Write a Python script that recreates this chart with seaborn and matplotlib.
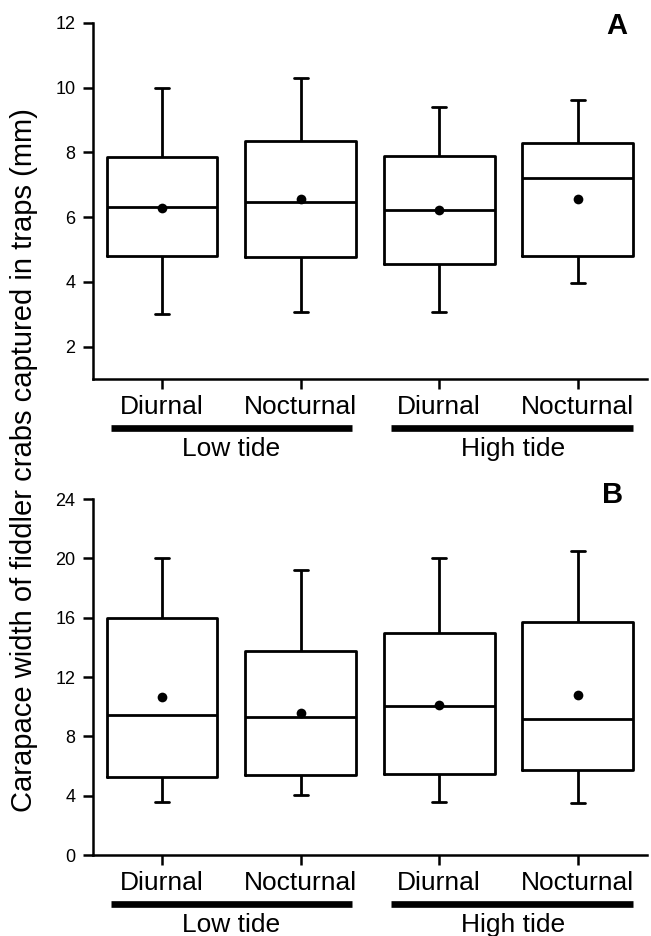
import numpy as np
import pandas as pd
import matplotlib
matplotlib.use('Agg')
import matplotlib.pyplot as plt
import matplotlib.transforms as mtransforms
import seaborn as sns

# groups along the x axis (tide x period)
groups = ['Low Diurnal', 'Low Nocturnal', 'High Diurnal', 'High Nocturnal']
tick_labels = ['Diurnal', 'Nocturnal', 'Diurnal', 'Nocturnal']
tide_labels = ['Low tide', 'High tide']

# Panel A: five-number summaries + means
a_min = [3.0, 3.07, 3.07, 3.98]
a_q1 = [4.8, 4.76, 4.54, 4.79]
a_med = [6.3, 6.48, 6.22, 7.2]
a_q3 = [7.85, 8.35, 7.9, 8.28]
a_max = [10.0, 10.3, 9.4, 9.6]
a_mean = [6.28, 6.56, 6.22, 6.56]

# Panel B
b_min = [3.6, 4.05, 3.6, 3.48]
b_q1 = [5.28, 5.39, 5.44, 5.73]
b_med = [9.42, 9.33, 10.07, 9.15]
b_q3 = [16.0, 13.78, 15.0, 15.73]
b_max = [20.0, 19.2, 20.0, 20.5]
b_mean = [10.65, 9.6, 10.1, 10.8]

ylabel = 'Carapace width of fiddler crabs captured in traps (mm)'


def summary_frame(mins, q1s, meds, q3s, maxs):
    # 5 points per group -> linear percentiles hit q1/median/q3 exactly
    rows = []
    for g, lo, q1, md, q3, hi in zip(groups, mins, q1s, meds, q3s, maxs):
        for v in (lo, q1, md, q3, hi):
            rows.append({'group': g, 'value': v})
    return pd.DataFrame(rows)


sns.set_style('ticks')
plt.rcParams['font.family'] = ['Liberation Sans', 'DejaVu Sans']
plt.rcParams['text.color'] = 'black'
plt.rcParams['xtick.color'] = 'black'
plt.rcParams['ytick.color'] = 'black'
plt.rcParams['axes.edgecolor'] = 'black'

fig = plt.figure(figsize=(6.51, 9.36), dpi=100)
ax_a = fig.add_axes([0.1424, 0.595, 0.8516, 0.3807])
ax_b = fig.add_axes([0.1424, 0.0865, 0.8516, 0.3803])

panels = [
    (ax_a, summary_frame(a_min, a_q1, a_med, a_q3, a_max), a_mean, (1, 12), np.arange(2, 13, 2), 'A'),
    (ax_b, summary_frame(b_min, b_q1, b_med, b_q3, b_max), b_mean, (0, 24), np.arange(0, 25, 4), 'B'),
]

for ax, df, means, ylim, yticks, letter in panels:
    sns.boxplot(data=df, x='group', y='value', order=groups, fill=False,
                color='black', linewidth=2.0, width=0.8, whis=(0, 100),
                capwidths=0.1, ax=ax)
    sns.stripplot(x=groups, y=means, order=groups, jitter=False,
                  color='black', size=7, ax=ax)
    ax.set_xlim(-0.5, 3.5)
    ax.set_ylim(*ylim)
    ax.set_yticks(yticks)
    ax.set_xticks(range(len(groups)))
    ax.set_xticklabels(tick_labels, fontsize=19)
    ax.set_xlabel('')
    ax.set_ylabel('')
    ax.tick_params(axis='y', labelsize=13, length=7.5, width=1.8, pad=5)
    ax.tick_params(axis='x', length=7.5, width=1.8, pad=4)
    sns.despine(ax=ax)
    for s in ['left', 'bottom']:
        ax.spines[s].set_linewidth(1.8)

    # tide group bars and labels under the tick labels
    trans = mtransforms.blended_transform_factory(ax.transData, ax.transAxes)
    ax.plot([-0.37, 1.37], [-0.137, -0.137], color='black', lw=4.8,
            solid_capstyle='butt', transform=trans, clip_on=False)
    ax.plot([1.65, 3.40], [-0.137, -0.137], color='black', lw=4.8,
            solid_capstyle='butt', transform=trans, clip_on=False)
    ax.text(0.5, -0.197, tide_labels[0], transform=trans, ha='center',
            va='center', fontsize=19)
    ax.text(2.53, -0.197, tide_labels[1], transform=trans, ha='center',
            va='center', fontsize=19)

fig.text(617 / 651, 1 - 26 / 936, 'A', fontsize=21, fontweight='bold',
         ha='center', va='center')
fig.text(613 / 651, 1 - 495 / 936, 'B', fontsize=21, fontweight='bold',
         ha='center', va='center')
fig.text(0.037, 0.509, ylabel, rotation=90, ha='center', va='center',
         fontsize=21)

fig.savefig('out.png', dpi=100)
